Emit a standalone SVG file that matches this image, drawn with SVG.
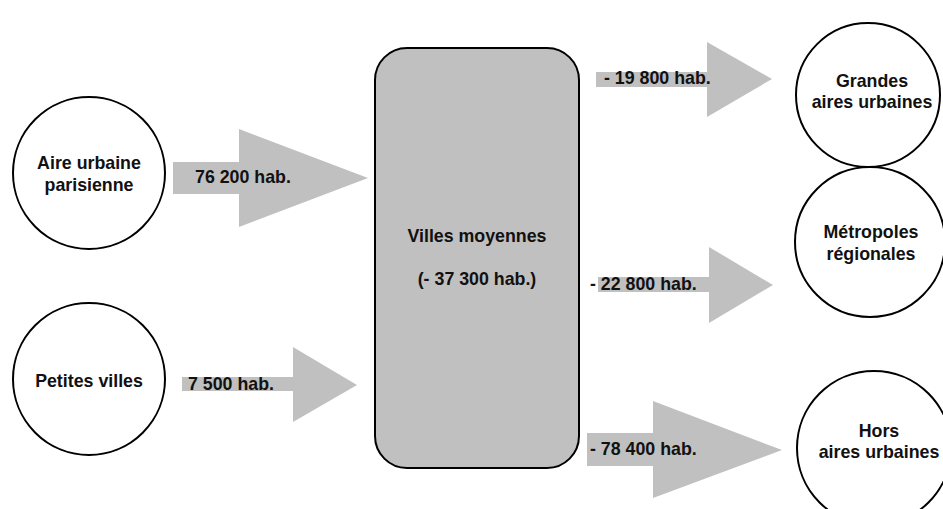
<svg xmlns="http://www.w3.org/2000/svg" width="943" height="509" viewBox="0 0 943 509">
<style>
.node{fill:#fff;stroke:#000;stroke-width:2}
.box{fill:#c0c0c0;stroke:#000;stroke-width:2}
.arr{fill:#c0c0c0;stroke:none}
text{font-family:"Liberation Sans",Arial,Helvetica,sans-serif;font-weight:bold;font-size:17.8px;fill:#111}
.c{text-anchor:middle}
</style>
<rect width="943" height="509" fill="#fff"/>
<g id="connectors">
<g id="a1"><polygon class="arr" points="173,162 239,162 239,129 368,178 239,227 239,194 173,194"/><text x="195" y="183">76 200 hab.</text></g>
<g id="a2"><polygon class="arr" points="182,377 293,377 293,347 357,385 293,422 293,391 182,391"/><text x="188" y="390">7 500 hab.</text></g>
<g id="a3"><polygon class="arr" points="596,72 707,72 707,42 772,79 707,117 707,87 596,87"/><text x="604" y="84">- 19 800 hab.</text></g>
<g id="a4"><polygon class="arr" points="598,277 709,277 709,247 773,285 709,323 709,292 598,292"/><text x="590" y="290">- 22 800 hab.</text></g>
<g id="a5"><polygon class="arr" points="587,433 653,433 653,401 782,450 653,498 653,466 587,466"/><text x="590" y="455">- 78 400 hab.</text></g>
</g>
<g id="villes-moyennes"><rect class="box" x="375" y="48" width="204" height="420" rx="32" ry="32"/><text class="c" x="477" y="242">Villes moyennes</text><text class="c" x="477" y="285">(- 37 300 hab.)</text></g>
<g id="aire-parisienne"><circle class="node" cx="89" cy="173" r="76"/><text class="c" x="89" y="169">Aire urbaine</text><text class="c" x="89" y="191">parisienne</text></g>
<g id="petites-villes"><circle class="node" cx="89" cy="379" r="76"/><text class="c" x="89" y="387">Petites villes</text></g>
<g id="grandes-aires"><circle class="node" cx="868" cy="95" r="72"/><text class="c" x="872" y="87">Grandes</text><text class="c" x="872" y="108">aires urbaines</text></g>
<g id="metropoles"><circle class="node" cx="870" cy="242" r="75"/><text class="c" x="871" y="238">Métropoles</text><text class="c" x="871" y="260">régionales</text></g>
<g id="hors-aires"><circle class="node" cx="874" cy="448" r="77"/><text class="c" x="879" y="437">Hors</text><text class="c" x="879" y="458">aires urbaines</text></g>
</svg>
